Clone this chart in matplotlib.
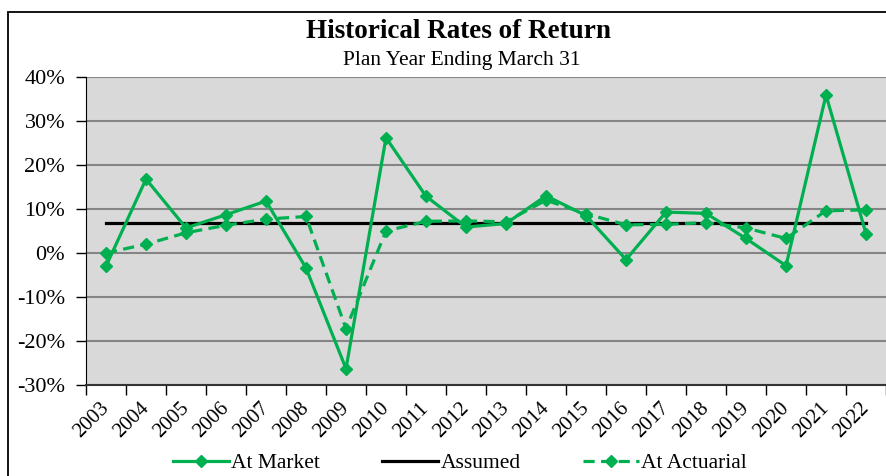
import matplotlib
matplotlib.use("Agg")
import matplotlib.pyplot as plt
from matplotlib.patches import Rectangle
from matplotlib.ticker import FixedLocator, PercentFormatter

years = [str(y) for y in range(2003, 2023)]
at_market = [-3.0, 16.8, 5.7, 8.7, 11.8, -3.4, -26.3, 26.2, 12.9, 5.9,
             6.7, 13.0, 8.5, -1.5, 9.3, 9.0, 3.3, -2.9, 35.9, 4.4]
at_actuarial = [0.0, 2.0, 4.6, 6.3, 7.7, 8.3, -17.2, 5.0, 7.2, 7.3,
                7.1, 12.0, 8.9, 6.4, 6.5, 6.9, 5.7, 3.3, 9.6, 9.8]
assumed = [6.75] * len(years)

GREEN = "#00B050"
SERIF = "Liberation Serif"
W, H = 886, 476

plt.rcParams["axes.unicode_minus"] = False

fig = plt.figure(figsize=(W / 100, H / 100), dpi=100)
ax = fig.add_axes([86 / W, (H - 385) / H, 800 / W, 308 / H])

# outer chart border, running off the right and bottom edges
fig.patches.append(Rectangle((8 / W, -0.1), 1.2, (H - 12) / H + 0.1,
                             transform=fig.transFigure, fill=False,
                             edgecolor="black", linewidth=1.3))

x = list(range(len(years)))
ax.plot(x, at_market, color=GREEN, lw=2.3, marker="D", ms=6.5,
        label="At Market", zorder=4)
ax.plot(x, assumed, color="black", lw=2.3, label="Assumed", zorder=3)
ax.plot(x, at_actuarial, color=GREEN, lw=2.3, ls=(0, (3.5, 2)), marker="D",
        ms=6.5, label="At Actuarial", zorder=4)

ax.set_facecolor("#D9D9D9")
ax.set_xlim(-0.5, len(years) - 0.5)
ax.set_ylim(-30, 40)
ax.set_yticks(range(-30, 41, 10))
ax.yaxis.set_major_formatter(PercentFormatter(decimals=0))
ax.grid(axis="y", color="#858585", lw=1.5)
ax.set_axisbelow(True)

ax.set_xticks(x)
ax.set_xticklabels(years, rotation=45, rotation_mode="anchor", ha="right",
                   va="center", family=SERIF, fontsize=15)
ax.xaxis.set_minor_locator(FixedLocator([i - 0.5 for i in range(len(years) + 1)]))
ax.tick_params(axis="x", which="major", length=0, pad=15)
ax.tick_params(axis="x", which="minor", length=7, width=1, color="black")
ax.tick_params(axis="y", length=7, width=1, pad=8)
for lbl in ax.get_yticklabels():
    lbl.set_family(SERIF)
    lbl.set_fontsize(16)

for side in ("top", "right"):
    ax.spines[side].set_visible(False)
ax.spines["left"].set_color("black")
ax.spines["bottom"].set_color("#333333")
ax.spines["bottom"].set_linewidth(1.5)

fig.text(458 / W, 1 - 32 / H, "Historical Rates of Return", ha="center",
         va="center", family=SERIF, fontweight="bold", fontsize=19.5)
fig.text(462 / W, 1 - 61 / H, "Plan Year Ending March 31", ha="center",
         va="center", family=SERIF, fontsize=15.5)

fig.legend(loc="center", bbox_to_anchor=(460 / W, 1 - 463 / H), ncol=3,
           frameon=False, prop={"family": SERIF, "size": 15.5},
           handlelength=2.6, handletextpad=0.1, columnspacing=2.9)

fig.savefig("out.png", dpi=100)
